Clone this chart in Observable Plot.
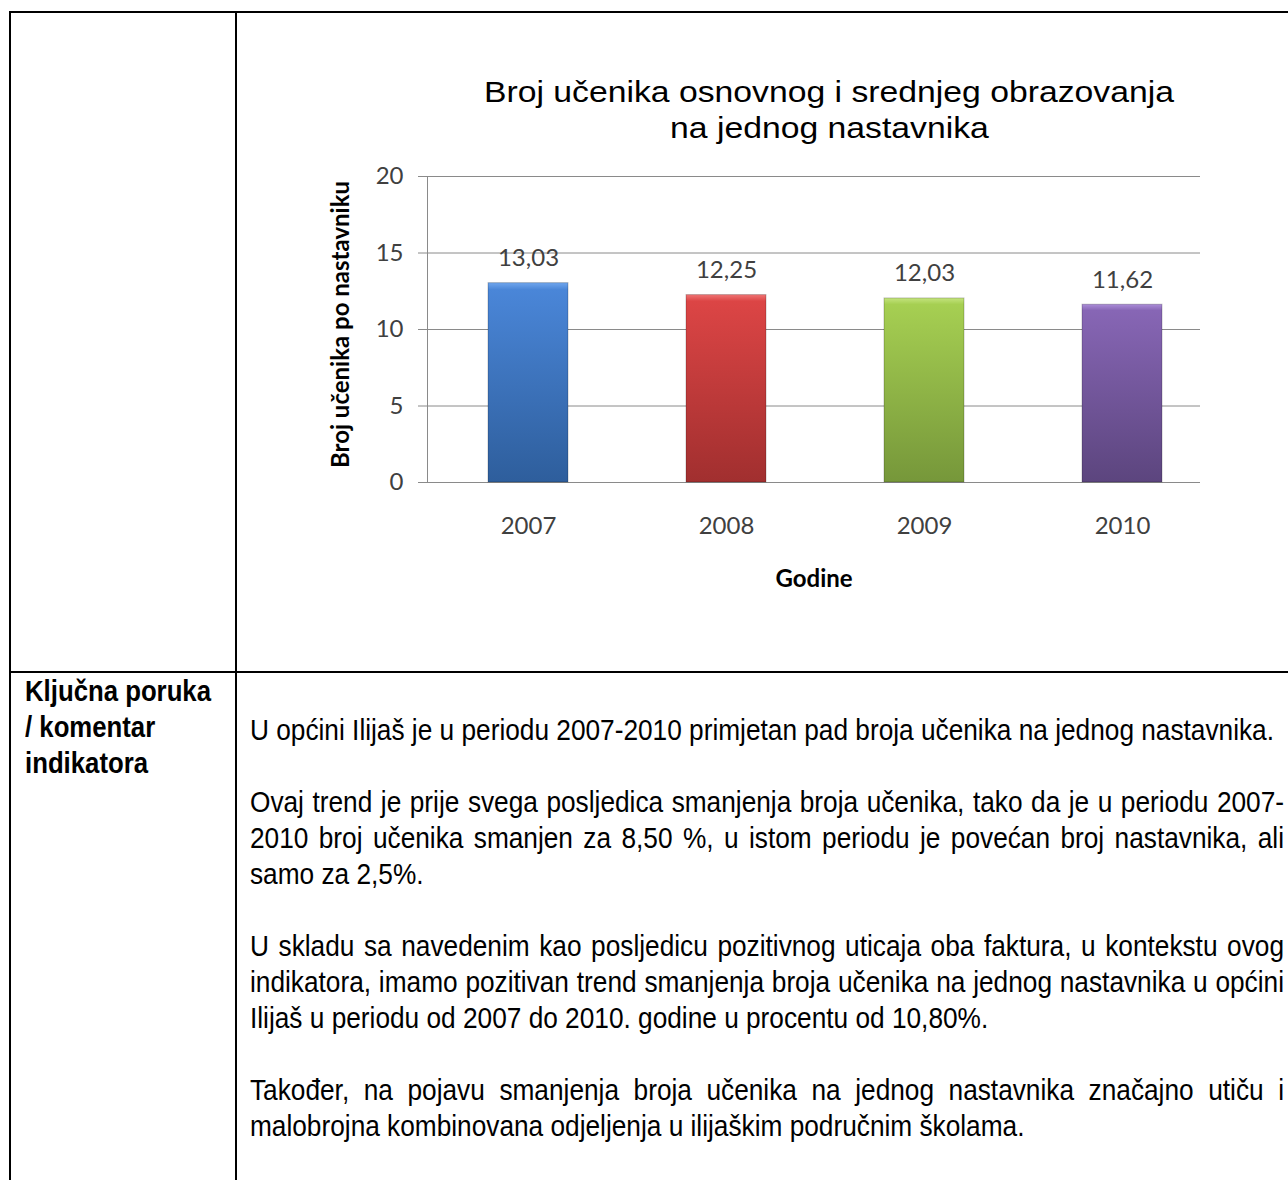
<!DOCTYPE html>
<html>
<head>
<meta charset="utf-8">
<script src="https://cdn.jsdelivr.net/npm/d3@7"></script>
<script src="https://cdn.jsdelivr.net/npm/@observablehq/plot@0.6"></script>
<style>
  html, body { margin: 0; padding: 0; background: #fff; }
  #page { position: relative; width: 1288px; height: 1180px; overflow: hidden; background: #fff; }
  .hl, .vl { position: absolute; background: #000; }
  .line { position: absolute; white-space: nowrap; transform-origin: 0 0; color: #000; }
  #chart { position: absolute; left: 250px; top: 150px; }
</style>
</head>
<body>
<div id="page">
  <div class="hl" style="left:9px; top:11px; width:1279px; height:2px;"></div>
  <div class="vl" style="left:9px; top:11px; width:2px; height:1169px;"></div>
  <div class="vl" style="left:235px; top:11px; width:2px; height:1169px;"></div>
  <div class="hl" style="left:9px; top:671px; width:1279px; height:2px;"></div>
  <div id="chart"></div>
</div>
<script>
// ---- data ----
const years = ["2007", "2008", "2009", "2010"];
const values = [13.03, 12.25, 12.03, 11.62];
const yTicks = [0, 5, 10, 15, 20];
const chartTitle = ["Broj učenika osnovnog i srednjeg obrazovanja", "na jednog nastavnika"];
const yLabel = "Broj učenika po nastavniku";
const xLabel = "Godine";
const leftCellLines = ["Ključna poruka", "/ komentar", "indikatora"];
const paragraphs = [
  ["U općini Ilijaš je u periodu 2007-2010 primjetan pad broja učenika na jednog nastavnika."],
  ["Ovaj trend je prije svega posljedica smanjenja broja učenika, tako da je u periodu 2007-",
   "2010 broj učenika smanjen za 8,50 %, u istom periodu je povećan broj nastavnika, ali",
   "samo za 2,5%."],
  ["U skladu sa navedenim kao posljedicu pozitivnog uticaja oba faktura, u kontekstu ovog",
   "indikatora, imamo pozitivan trend smanjenja broja učenika na jednog nastavnika u općini",
   "Ilijaš u periodu od 2007 do 2010. godine u procentu od 10,80%."],
  ["Također, na pojavu smanjenja broja učenika na jednog nastavnika značajno utiču i",
   "malobrojna kombinovana odjeljenja u ilijaškim područnim školama."]
];
// bar gradient colours (highlight, top, bottom)
const barColors = {
  "2007": ["#6fa6ee", "#4a86d8", "#2e5e9c"],
  "2008": ["#f07474", "#dc4545", "#a12f2f"],
  "2009": ["#c4e47e", "#a6cf52", "#76973a"],
  "2010": ["#ab8dd8", "#8766b5", "#5c457e"]
};

const data = years.map((y, i) => ({year: y, value: values[i]}));
const fmt = v => v.toFixed(2).replace(".", ",");

// ---- chart ----
const chart = Plot.plot({
  width: 950,
  height: 500,
  marginLeft: 177,
  marginRight: 0,
  marginTop: 26,
  marginBottom: 168,
  style: {background: "transparent", fontFamily: "Lato, 'Open Sans', sans-serif", fontSize: "24px", color: "#404040", overflow: "visible"},
  x: {type: "band", domain: years, range: [177, 972], paddingInner: 0.5975, paddingOuter: 0.29875, align: 0.5},
  y: {domain: [0, 20]},
  color: {type: "ordinal", domain: years, range: years.map(y => `url(#grad-${y})`)},
  marks: [
    Plot.gridY(yTicks, {stroke: "#8a8a8a", strokeOpacity: 1, strokeWidth: 1}),
    Plot.frame({anchor: "left", stroke: "#8a8a8a", strokeWidth: 1}),
    Plot.axisY(yTicks, {tickSize: 9, tickPadding: 15, stroke: "#8a8a8a", fill: "#404040", label: null, fontSize: 24}),
    Plot.barY(data, {x: "year", y: "value", fill: "year", stroke: "rgba(0,0,0,0.22)", strokeWidth: 1}),
    Plot.text(data, {x: "year", y: "value", text: d => fmt(d.value), dy: -17, lineAnchor: "bottom", fill: "#404040", fontSize: 24}),
    Plot.axisX({tickSize: 0, tickPadding: 34, fill: "#404040", label: null, fontSize: 24}),
    Plot.text([xLabel], {frameAnchor: "bottom", dy: 104, lineAnchor: "bottom", fontWeight: "bold", fill: "#000", fontSize: 24}),
    Plot.text([yLabel], {frameAnchor: "left", textAnchor: "middle", dx: -86, dy: -5, rotate: -90, fontWeight: "bold", fill: "#000", fontSize: 24})
  ]
});

// gradients for bars
const defs = d3.select(chart).insert("defs", ":first-child");
years.forEach(y => {
  const [hi, top, bot] = barColors[y];
  const g = defs.append("linearGradient").attr("id", `grad-${y}`)
    .attr("x1", 0).attr("y1", 0).attr("x2", 0).attr("y2", 1);
  g.append("stop").attr("offset", "0").attr("stop-color", hi);
  g.append("stop").attr("offset", "0.035").attr("stop-color", top);
  g.append("stop").attr("offset", "1").attr("stop-color", bot);
});
document.getElementById("chart").appendChild(chart);

// ---- HTML text helpers ----
const canvas = document.createElement("canvas");
const ctx = canvas.getContext("2d");
function measure(text, font) { ctx.font = font; return ctx.measureText(text).width; }
const page = document.getElementById("page");
function addLine(text, o) {
  const d = document.createElement("div");
  d.className = "line";
  d.textContent = text;
  d.style.fontFamily = o.family;
  d.style.fontSize = o.size + "px";
  d.style.fontWeight = o.weight || "normal";
  d.style.lineHeight = o.size + "px";
  d.style.left = o.x + "px";
  d.style.top = (o.baseline - 0.846 * o.size) + "px";
  d.style.transform = `scaleX(${o.scale})`;
  if (o.justifyWidth) {
    d.style.width = (o.justifyWidth / o.scale) + "px";
    d.style.textAlign = "justify";
    d.style.textAlignLast = "justify";
    d.style.whiteSpace = "normal";
  }
  page.appendChild(d);
}

// title
const tFam = "'Liberation Sans', Arial, sans-serif", tSize = 30;
const tW = measure(chartTitle[0], `${tSize}px 'Liberation Sans'`);
const tScale = 690 / tW;
chartTitle.forEach((t, i) => {
  const w = measure(t, `${tSize}px 'Liberation Sans'`) * tScale;
  addLine(t, {family: tFam, size: tSize, x: 829 - w / 2, baseline: 102 + i * 36, scale: tScale});
});

// body text
const bFam = "'Liberation Sans', Arial, sans-serif", bSize = 29;
const bScale = 1024 / measure(paragraphs[0][0], `${bSize}px 'Liberation Sans'`);
const lh = 36;
let base = 741;
paragraphs.forEach(p => {
  p.forEach((t, i) => {
    const last = i === p.length - 1;
    addLine(t, {family: bFam, size: bSize, x: 250, baseline: base, scale: bScale, justifyWidth: last ? null : 1034});
    base += lh;
  });
  base += lh;
});
const lScale = 186 / measure(leftCellLines[0], `bold ${bSize}px 'Liberation Sans'`);
leftCellLines.forEach((t, i) => {
  addLine(t, {family: bFam, size: bSize, weight: "bold", x: 25, baseline: 702 + i * lh, scale: lScale});
});
</script>
</body>
</html>
